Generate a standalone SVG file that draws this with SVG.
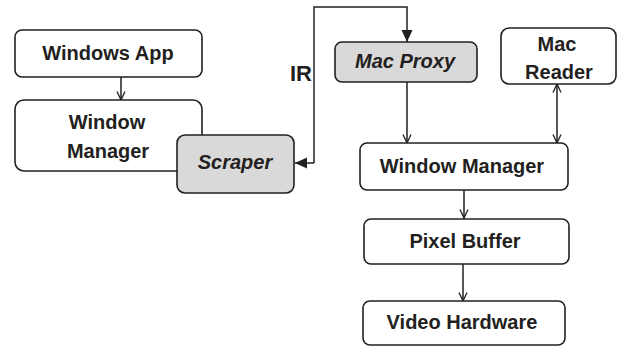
<svg xmlns="http://www.w3.org/2000/svg" width="618" height="346" viewBox="0 0 618 346">
<style>
.box{fill:#fff;stroke:#231f20;stroke-width:1.6}
.grey{fill:#d9d9d9;stroke:#231f20;stroke-width:1.6}
text{font-family:"Liberation Sans",Arial,sans-serif;font-weight:bold;font-size:20px;fill:#231f20;text-anchor:middle}
.it{font-style:italic}
.ln{fill:none;stroke:#231f20;stroke-width:1.5}
</style>
<defs>
<marker id="open" viewBox="0 0 10 10" refX="9.5" refY="5" markerWidth="10" markerHeight="10" markerUnits="userSpaceOnUse" orient="auto-start-reverse">
<path d="M1,1 L9.5,5 L1,9" fill="none" stroke="#231f20" stroke-width="1.3"/>
</marker>
<marker id="solid" viewBox="0 0 12 12" refX="12" refY="6" markerWidth="12" markerHeight="12" markerUnits="userSpaceOnUse" orient="auto">
<path d="M0,0.5 L12,6 L0,11.5 Z" fill="#231f20"/>
</marker>
</defs>
<g id="connectors">
<line class="ln" x1="121" y1="77" x2="121" y2="100" marker-end="url(#open)"/>
<line class="ln" x1="407" y1="82" x2="407" y2="143" marker-end="url(#open)"/>
<line class="ln" x1="557" y1="84" x2="557" y2="143" marker-start="url(#open)" marker-end="url(#open)"/>
<line class="ln" x1="464" y1="190" x2="464" y2="218" marker-end="url(#open)"/>
<line class="ln" x1="463" y1="264" x2="463" y2="301" marker-end="url(#open)"/>
<polyline class="ln" points="314,163 314,7 407,7 407,42" marker-end="url(#solid)"/>
<line class="ln" x1="314" y1="163" x2="295" y2="163" marker-end="url(#solid)"/>
<text x="312" y="81" style="text-anchor:end;font-size:22px">IR</text>
</g>
<g id="windows-app"><rect class="box" x="15" y="30" width="187" height="47" rx="7"/><text x="108" y="60">Windows App</text></g>
<g id="window-manager-left"><rect class="box" x="15" y="100" width="187" height="71" rx="9"/><text x="107" y="129">Window</text><text x="108" y="158">Manager</text></g>
<g id="scraper"><rect class="grey" x="177" y="135" width="117" height="58" rx="8"/><text class="it" x="235" y="169">Scraper</text></g>
<g id="mac-proxy"><rect class="grey" x="335" y="42" width="142" height="40" rx="7"/><text class="it" x="405" y="68">Mac Proxy</text></g>
<g id="mac-reader"><rect class="box" x="501" y="28" width="115" height="56" rx="8"/><text x="557" y="51">Mac</text><text x="559" y="79">Reader</text></g>
<g id="window-manager-right"><rect class="box" x="360" y="143" width="208" height="47" rx="7"/><text x="462" y="173">Window Manager</text></g>
<g id="pixel-buffer"><rect class="box" x="364" y="219" width="205" height="45" rx="7"/><text x="465" y="248">Pixel Buffer</text></g>
<g id="video-hardware"><rect class="box" x="363" y="301" width="202" height="44" rx="7"/><text x="462" y="329">Video Hardware</text></g>
</svg>
